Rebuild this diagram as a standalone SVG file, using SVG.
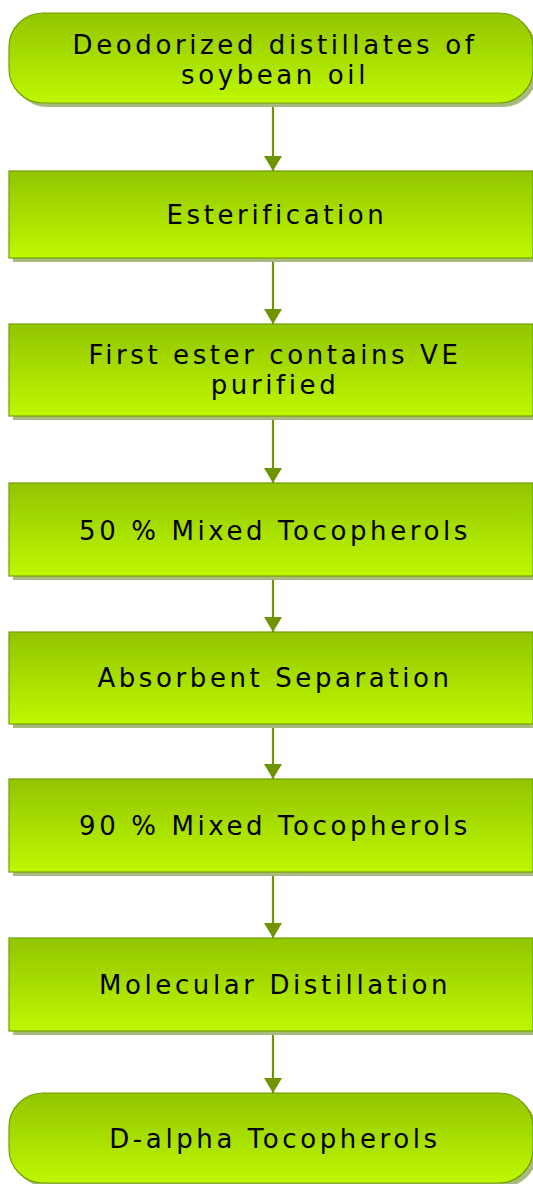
<svg xmlns="http://www.w3.org/2000/svg" width="533" height="1184" viewBox="0 0 533 1184">
<defs>
<linearGradient id="g" x1="0" y1="0" x2="0" y2="1">
<stop offset="0" stop-color="#92c500"/>
<stop offset="1" stop-color="#bdf800"/>
</linearGradient>
<marker id="ah" markerWidth="16" markerHeight="18" refX="15" refY="9" orient="auto" markerUnits="userSpaceOnUse">
<path d="M0,0 L15,9 L0,18 Z" fill="#6e9400"/>
</marker>
</defs>
<style>
.sh{fill:#a9ba80}
.bx{fill:url(#g);stroke:#72a000;stroke-width:1.2}
.t{font-family:"DejaVu Sans",sans-serif;font-size:26px;fill:#000;text-anchor:middle;letter-spacing:3.6px}
.c{stroke:#6e9400;stroke-width:2.2;fill:none}
</style>
<g id="connectors">
<line class="c" x1="273" y1="103" x2="273" y2="171" marker-end="url(#ah)"/>
<line class="c" x1="273" y1="258" x2="273" y2="324" marker-end="url(#ah)"/>
<line class="c" x1="273" y1="416" x2="273" y2="483" marker-end="url(#ah)"/>
<line class="c" x1="273" y1="576" x2="273" y2="632" marker-end="url(#ah)"/>
<line class="c" x1="273" y1="724" x2="273" y2="779" marker-end="url(#ah)"/>
<line class="c" x1="273" y1="872" x2="273" y2="938" marker-end="url(#ah)"/>
<line class="c" x1="273" y1="1031" x2="273" y2="1093" marker-end="url(#ah)"/>
</g>
<g id="n1">
<rect class="sh" x="13" y="17" width="524" height="90" rx="34" ry="34"/>
<rect class="bx" x="9" y="13" width="524" height="90" rx="34" ry="34"/>
<text class="t" x="275" y="54">Deodorized distillates of</text>
<text class="t" x="275" y="84">soybean oil</text>
</g>
<g id="n2">
<rect class="sh" x="13" y="175" width="524" height="87"/>
<rect class="bx" x="9" y="171" width="524" height="87"/>
<text class="t" x="277" y="224">Esterification</text>
</g>
<g id="n3">
<rect class="sh" x="13" y="328" width="524" height="92"/>
<rect class="bx" x="9" y="324" width="524" height="92"/>
<text class="t" x="275" y="364">First ester contains VE</text>
<text class="t" x="275" y="394">purified</text>
</g>
<g id="n4">
<rect class="sh" x="13" y="487" width="524" height="93"/>
<rect class="bx" x="9" y="483" width="524" height="93"/>
<text class="t" x="275" y="540">50 % Mixed Tocopherols</text>
</g>
<g id="n5">
<rect class="sh" x="13" y="636" width="524" height="92"/>
<rect class="bx" x="9" y="632" width="524" height="92"/>
<text class="t" x="275" y="687">Absorbent Separation</text>
</g>
<g id="n6">
<rect class="sh" x="13" y="783" width="524" height="93"/>
<rect class="bx" x="9" y="779" width="524" height="93"/>
<text class="t" x="275" y="835">90 % Mixed Tocopherols</text>
</g>
<g id="n7">
<rect class="sh" x="13" y="942" width="524" height="93"/>
<rect class="bx" x="9" y="938" width="524" height="93"/>
<text class="t" x="275" y="994">Molecular Distillation</text>
</g>
<g id="n8">
<rect class="sh" x="13" y="1097" width="524" height="90" rx="34" ry="34"/>
<rect class="bx" x="9" y="1093" width="524" height="90" rx="34" ry="34"/>
<text class="t" x="275" y="1148">D-alpha Tocopherols</text>
</g>
</svg>
